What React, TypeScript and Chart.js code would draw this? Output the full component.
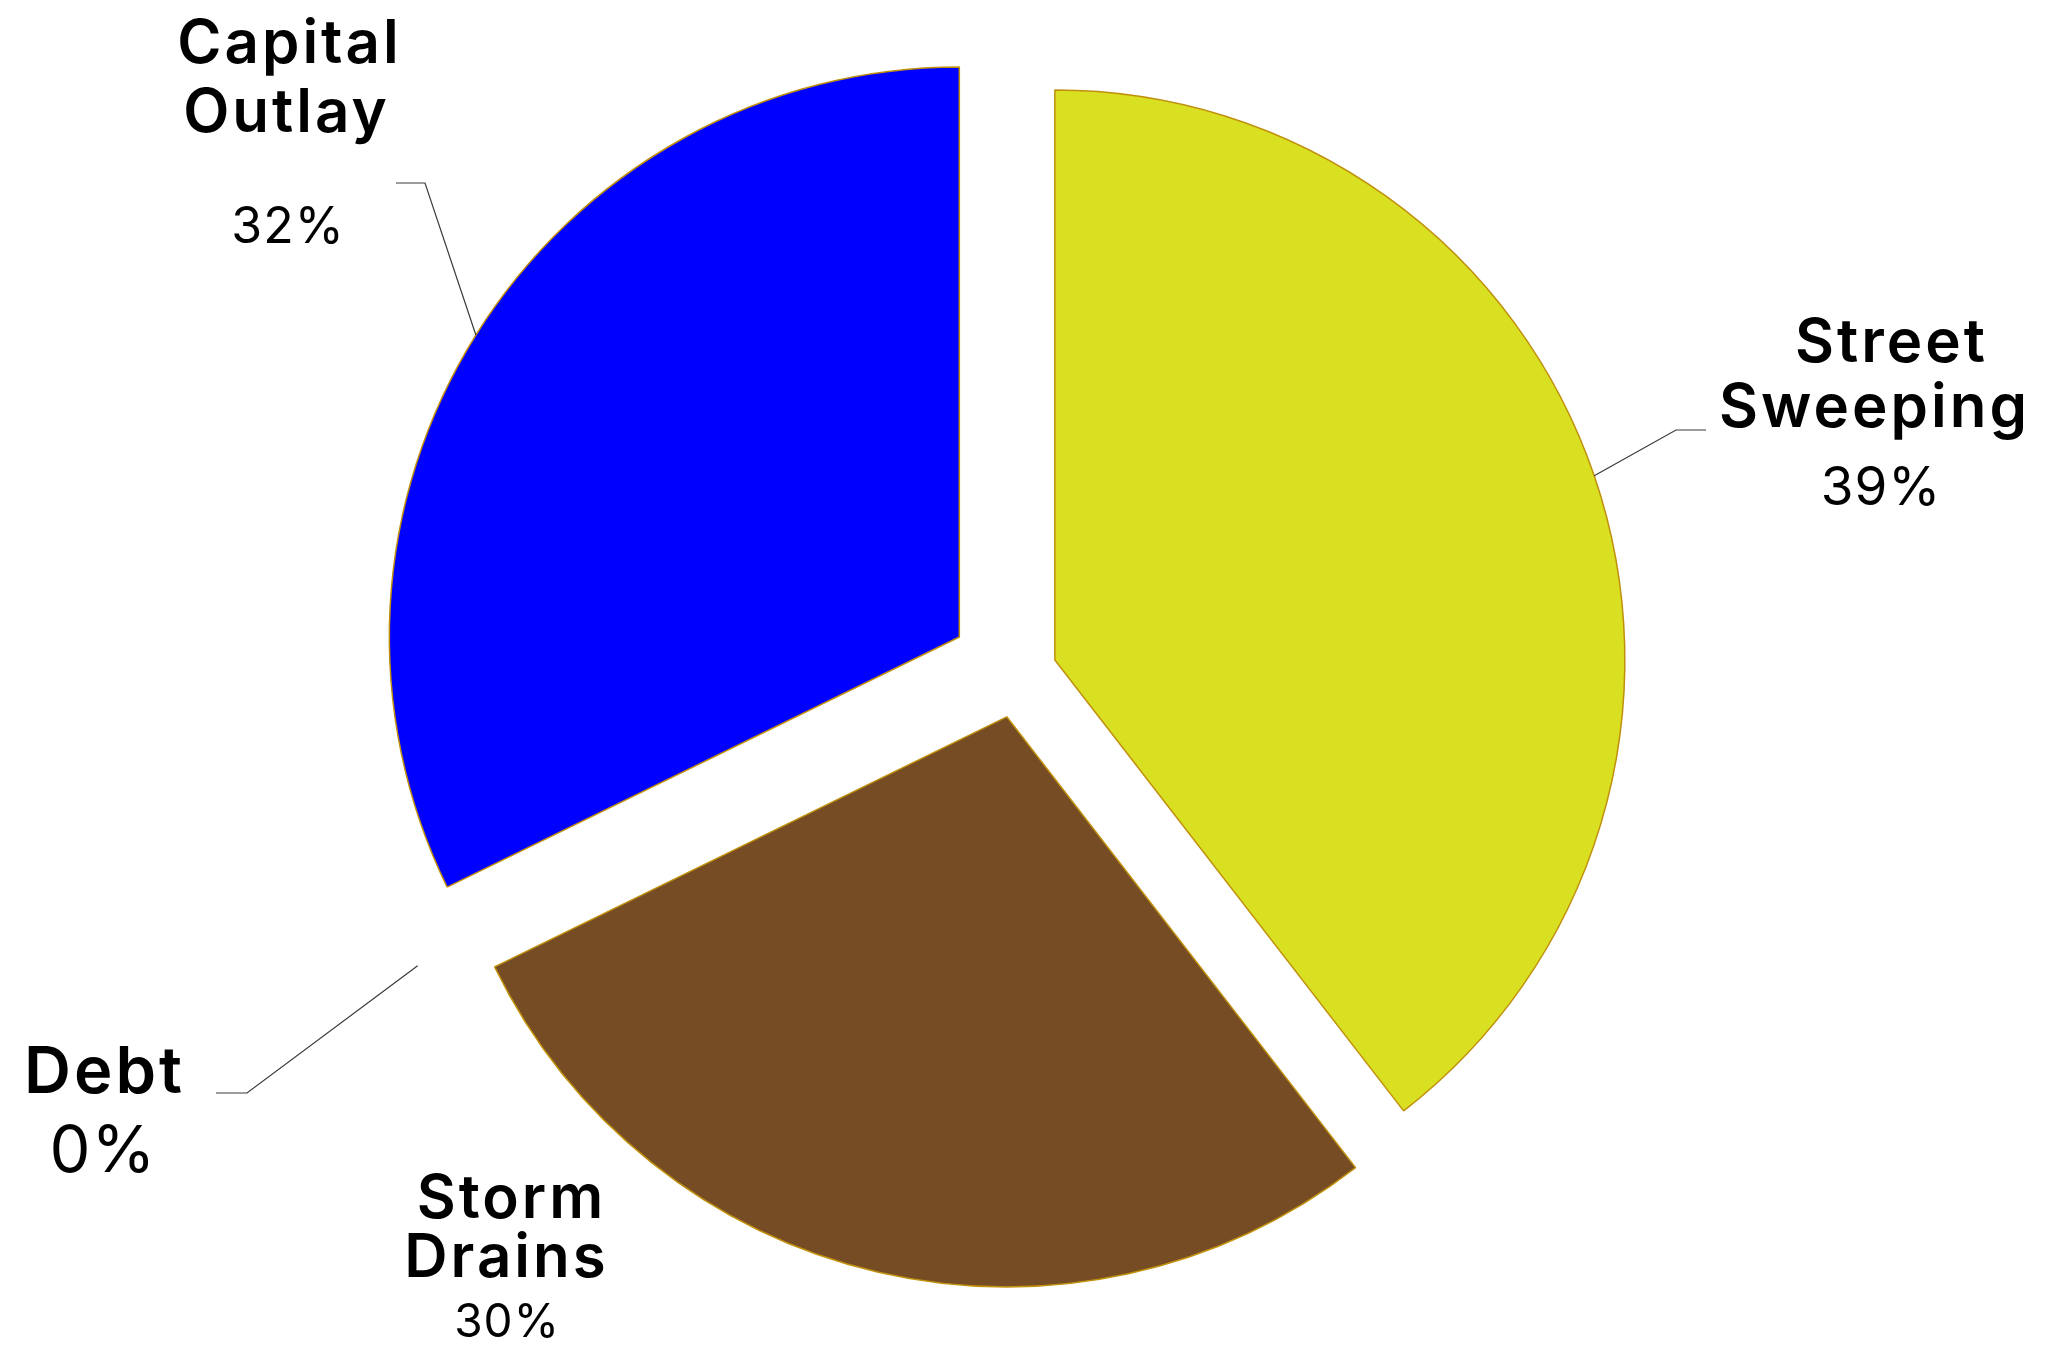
import React, { useEffect, useRef } from "react";
import { Chart, registerables } from "chart.js";

Chart.register(...registerables);

// ---- data (clockwise from 12 o'clock) ----
const categories = ["Street Sweeping", "Storm Drains", "Debt", "Capital Outlay"];
const labelLines = [["Street", "Sweeping"], ["Storm", "Drains"], ["Debt"], ["Capital", "Outlay"]];
const shares = [39.52, 28.25, 0, 32.23];
const percentLabels = ["39%", "30%", "0%", "32%"];

// ---- styles ----
const sliceColors = ["#D9E021", "#754C24", "#7F7F7F", "#0000FF"];
const sliceBorder = "#C0900C";
const explode = [40, 45, 97, 68]; // px each slice is pulled out along its mid-angle
const RADIUS = 570;
const FONT = "Inter, 'Open Sans', sans-serif";
const NAME_SPACING = 3;

// label placement relative to pie centre (first-line baseline, text centre)
const LABEL_LAYOUT = [
  { dx: 864, dy: -311, nameSize: 60, lineGap: 65, pctSize: 53, pctGap: 143, lineShift: [9, -8], elbow: [-205, 68], end: [-175, 68] },
  { dx: -510, dy: 545, nameSize: 60, lineGap: 59, pctSize: 46, pctGap: 119, lineShift: [3, -2], elbow: null, end: null },
  { dx: -914, dy: 420, nameSize: 65, lineGap: 0, pctSize: 65, pctGap: 79, lineShift: [0], elbow: [144, 0], end: [113, 0] },
  { dx: -729, dy: -610, nameSize: 60, lineGap: 69, pctSize: 50, pctGap: 180, lineShift: [0, -3], elbow: [137, 120], end: [108, 120] },
];

// draw each arc translated outward (exploded pie) with an unchanged radius
const explodedArcs = {
  id: "explodedArcs",
  beforeDatasetDraw(chart: any, args: any) {
    const ctx = chart.ctx;
    const meta = args.meta;
    meta.data.forEach((arc: any, i: number) => {
      const mid = (arc.startAngle + arc.endAngle) / 2;
      const d = explode[i] || 0;
      ctx.save();
      ctx.translate(Math.cos(mid) * d, Math.sin(mid) * d);
      arc.draw(ctx);
      ctx.restore();
    });
    return false;
  },
};

const outerLabels = {
  id: "outerLabels",
  afterDatasetsDraw(chart: any) {
    const ctx = chart.ctx;
    const meta = chart.getDatasetMeta(0);
    meta.data.forEach((arc: any, i: number) => {
      const L = LABEL_LAYOUT[i];
      const cx = arc.x;
      const cy = arc.y;
      const mid = (arc.startAngle + arc.endAngle) / 2;
      const tx = cx + L.dx;
      const ty = cy + L.dy;
      ctx.save();
      if (L.elbow && L.end) {
        const r = RADIUS + explode[i];
        const sx = cx + Math.cos(mid) * r;
        const sy = cy + Math.sin(mid) * r;
        ctx.strokeStyle = "#3a3a3a";
        ctx.lineWidth = 1.2;
        ctx.beginPath();
        ctx.moveTo(sx, sy);
        ctx.lineTo(tx + L.elbow[0], ty + L.elbow[1]);
        ctx.lineTo(tx + L.end[0], ty + L.end[1]);
        ctx.stroke();
      }
      ctx.fillStyle = "#000";
      ctx.textAlign = "center";
      ctx.textBaseline = "alphabetic";
      ctx.font = `600 ${L.nameSize}px ${FONT}`;
      (ctx as any).letterSpacing = `${NAME_SPACING}px`;
      labelLines[i].forEach((line, k) => {
        ctx.fillText(line, tx + NAME_SPACING / 2 + (L.lineShift[k] || 0), ty + k * L.lineGap);
      });
      (ctx as any).letterSpacing = "1px";
      ctx.font = `400 ${L.pctSize}px ${FONT}`;
      ctx.fillText(percentLabels[i], tx, ty + L.pctGap);
      ctx.restore();
    });
  },
};

export default function App() {
  const ref = useRef<HTMLCanvasElement | null>(null);
  useEffect(() => {
    if (!ref.current) return;
    const chart = new Chart(ref.current, {
      type: "pie",
      data: {
        labels: categories,
        datasets: [
          {
            data: shares,
            backgroundColor: sliceColors,
            borderColor: sliceBorder,
            borderWidth: 1.5,
          },
        ],
      },
      options: {
        responsive: false,
        animation: false,
        radius: RADIUS,
        layout: { padding: { left: 0, right: 38, top: 0, bottom: 3 } },
        plugins: { legend: { display: false }, tooltip: { enabled: false } },
        events: [],
      } as any,
      plugins: [explodedArcs, outerLabels],
    });
    return () => chart.destroy();
  }, []);
  return (
    <div style={{ position: "absolute", left: 0, top: 0, width: 2072, height: 1349, background: "#fff" }}>
      <canvas ref={ref} width={2072} height={1349} style={{ display: "block", width: 2072, height: 1349 }} />
    </div>
  );
}
